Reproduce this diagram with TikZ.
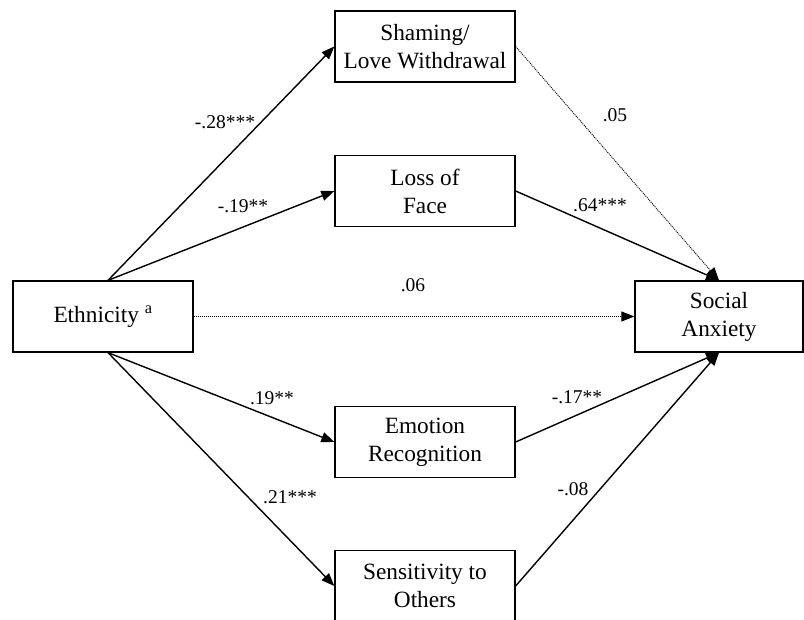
\documentclass[tikz,border=0pt]{standalone}
\usepackage{fontspec}
\setmainfont{Liberation Serif}
\usetikzlibrary{arrows.meta}
\begin{document}
\begin{tikzpicture}[x=1pt,y=-1pt,
 box/.style={draw, line width=1.3pt, minimum width=180pt, minimum height=71pt, inner sep=0pt, align=center, font=\fontsize{23.3}{28}\selectfont},
 lab/.style={font=\fontsize{19.5}{23}\selectfont, inner sep=0pt},
 arr/.style={line width=1.4pt, -{Triangle[length=13pt,width=10pt]}},
 dotarr/.style={line width=0.9pt, dash pattern=on 1pt off 1pt, -{Triangle[length=13pt,width=10pt]}}]
\useasboundingbox (0,0) rectangle (804,620);
\fill[white] (0,0) rectangle (804,620);
\clip (0,0) rectangle (804,620);
\node[box] (eth) at (103,316.5) {Ethnicity \textsuperscript{a}};
\node[box] (sham) at (425,46.5) {Shaming/\\Love Withdrawal};
\node[box] (lof) at (425,191) {Loss of\\Face};
\node[box] (emo) at (425,442) {Emotion\\Recognition};
\node[box] (sen) at (425,586) {Sensitivity to\\Others};
\node[box, minimum width=168pt] (sa) at (719,316.5) {Social\\Anxiety};
\draw[arr] ([xshift=5pt]eth.north) -- (sham.west);
\draw[arr] ([xshift=5pt]eth.north) -- (lof.west);
\draw[dotarr] (eth.east) -- (sa.west);
\draw[arr] ([xshift=5pt]eth.south) -- (emo.west);
\draw[arr] ([xshift=5pt]eth.south) -- (sen.west);
\draw[dotarr] (sham.east) -- (sa.north);
\draw[arr] (lof.east) -- (sa.north);
\draw[arr] (emo.east) -- (sa.south);
\draw[arr] (sen.east) -- (sa.south);
\node[lab] (l1) at (225,122) {-.28***};
\node[lab] (l2) at (243,206) {-.19**};
\node[lab] (l3) at (413,285) {.06};
\node[lab] (l4) at (615,115) {.05};
\node[lab] (l5) at (600,205) {.64***};
\node[lab] (l6) at (272,398) {.19**};
\node[lab] (l7) at (290,497) {.21***};
\node[lab] (l8) at (577,397) {-.17**};
\node[lab] (l9) at (573,489) {-.08};
\end{tikzpicture}
\end{document}
